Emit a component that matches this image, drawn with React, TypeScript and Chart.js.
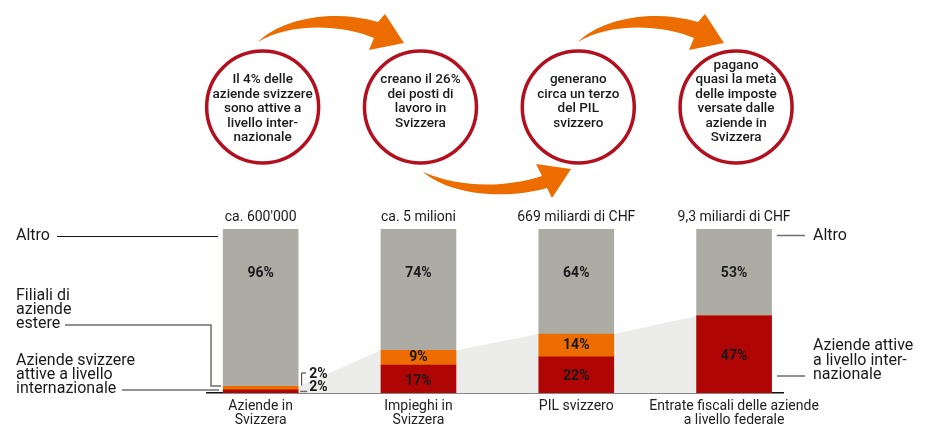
import { useEffect, useRef } from "react";
import { Chart, registerables } from "chart.js";
Chart.register(...registerables);

const FONT = "Roboto, 'DejaVu Sans', sans-serif";

const categories = ["Aziende in Svizzera", "Impieghi in Svizzera", "PIL svizzero", "Entrate fiscali delle aziende a livello federale"];
const categoryLines = [["Aziende in", "Svizzera"], ["Impieghi in", "Svizzera"], ["PIL svizzero"], ["Entrate fiscali delle aziende", "a livello federale"]];
const totals = ["ca. 600'000", "ca. 5 milioni", "669 miliardi di CHF", "9,3 miliardi di CHF"];
const swissIntl = [2, 17, 22, 47];
const foreignSubs = [2, 9, 14, 0];
const other = [96, 74, 64, 53];
const circleTexts = [
  ["Il 4% delle", "aziende svizzere", "sono attive a", "livello inter-", "nazionale"],
  ["creano il 26%", "dei posti di", "lavoro in", "Svizzera"],
  ["generano", "circa un terzo", "del PIL", "svizzero"],
  ["pagano", "quasi la metà", "delle imposte", "versate dalle", "aziende in", "Svizzera"],
];
const leftNotes = [["Altro"], ["Filiali di", "aziende", "estere"], ["Aziende svizzere", "attive a livello", "internazionale"]];
const rightNotes = [["Altro"], ["Aziende attive", "a livello inter-", "nazionale"]];

const RED = "#b00505";
const ORANGE = "#ec6c00";
const GRAY = "#adaca4";
const SHADE = "#ececea";
const CIRCLE = "#b2101e";
const TEXT = "#1a1a1a";
const LINE = "#6e6e6e";

function arrowA(ctx: CanvasRenderingContext2D, dx: number) {
  ctx.beginPath();
  ctx.moveTo(258 + dx, 42);
  ctx.bezierCurveTo(280 + dx, 20, 330 + dx, 8, 378 + dx, 22);
  ctx.lineTo(385 + dx, 14);
  ctx.lineTo(404 + dx, 43);
  ctx.lineTo(369 + dx, 50);
  ctx.lineTo(374 + dx, 38);
  ctx.bezierCurveTo(335 + dx, 22, 285 + dx, 25, 258 + dx, 42);
  ctx.closePath();
  ctx.fill();
}
function arrowB(ctx: CanvasRenderingContext2D) {
  ctx.beginPath();
  ctx.moveTo(423, 172);
  ctx.bezierCurveTo(450, 195, 505, 200, 547, 188);
  ctx.lineTo(552, 198);
  ctx.lineTo(571, 169);
  ctx.lineTo(536, 164);
  ctx.lineTo(542, 176);
  ctx.bezierCurveTo(505, 188, 460, 188, 423, 172);
  ctx.closePath();
  ctx.fill();
}

const decorPlugin = {
  id: "decor",
  beforeDatasetsDraw(chart: any) {
    const { ctx, scales } = chart;
    const x = scales.x, y = scales.y;
    const half = 37.5;
    const base = y.getPixelForValue(0);
    ctx.save();
    ctx.fillStyle = SHADE;
    ctx.beginPath();
    ctx.moveTo(x.getPixelForValue(0) + half, base);
    for (let i = 0; i < categories.length; i++) {
      const top = y.getPixelForValue(swissIntl[i] + foreignSubs[i]);
      const cx = x.getPixelForValue(i);
      if (i > 0) ctx.lineTo(cx - half, top);
      if (i < categories.length - 1) ctx.lineTo(cx + half, top);
    }
    ctx.lineTo(x.getPixelForValue(categories.length - 1) - half, base);
    ctx.closePath();
    ctx.fill();
    ctx.restore();
  },
  afterDraw(chart: any) {
    const { ctx, scales } = chart;
    const x = scales.x, y = scales.y;
    ctx.save();
    // arrows
    ctx.fillStyle = ORANGE;
    arrowA(ctx, 0);
    arrowA(ctx, 320);
    arrowB(ctx);
    // circles
    circleTexts.forEach((lines, i) => {
      const cx = x.getPixelForValue(i) + 2;
      ctx.beginPath();
      ctx.arc(cx, 107, 56, 0, Math.PI * 2);
      ctx.fillStyle = "#fff";
      ctx.fill();
      ctx.lineWidth = 3.5;
      ctx.strokeStyle = CIRCLE;
      ctx.stroke();
      ctx.fillStyle = TEXT;
      ctx.font = `500 13.5px ${FONT}`;
      ctx.textAlign = "center";
      ctx.textBaseline = "middle";
      const start = 80 - Math.max(0, lines.length - 5) * 14.5;
      lines.forEach((t, k) => ctx.fillText(t, cx, start + k * 14.5));
    });
    // totals above bars
    ctx.font = `14px ${FONT}`;
    ctx.fillStyle = TEXT;
    ctx.textAlign = "center";
    ctx.textBaseline = "middle";
    totals.forEach((t, i) => ctx.fillText(t, x.getPixelForValue(i), y.getPixelForValue(100) - 12));
    // value labels
    ctx.font = `bold 14px ${FONT}`;
    for (let i = 0; i < categories.length; i++) {
      const cx = x.getPixelForValue(i);
      ctx.textAlign = "center";
      ctx.fillText(other[i] + "%", cx, y.getPixelForValue(100) + 44);
      if (swissIntl[i] >= 5) {
        ctx.fillText(swissIntl[i] + "%", cx, y.getPixelForValue(swissIntl[i] / 2) + 2);
        if (foreignSubs[i] > 0) ctx.fillText(foreignSubs[i] + "%", cx, y.getPixelForValue(swissIntl[i] + foreignSubs[i] / 2));
      } else {
        const rx = cx + 37.5;
        const top = y.getPixelForValue(swissIntl[i] + foreignSubs[i]);
        ctx.textAlign = "left";
        ctx.fillText(foreignSubs[i] + "%", rx + 11, top - 12);
        ctx.fillText(swissIntl[i] + "%", rx + 11, top + 1);
        ctx.strokeStyle = "#333";
        ctx.lineWidth = 1;
        ctx.beginPath();
        ctx.moveTo(rx + 8, top - 13.5);
        ctx.lineTo(rx + 3.5, top - 13.5);
        ctx.lineTo(rx + 3.5, top - 1);
        ctx.stroke();
        ctx.strokeStyle = LINE;
        ctx.lineWidth = 1.5;
        ctx.beginPath();
        ctx.moveTo(rx + 2, top + 5);
        ctx.lineTo(rx + 9, top + 5);
        ctx.stroke();
      }
    }
    // left notes
    ctx.font = `16px ${FONT}`;
    ctx.textAlign = "left";
    ctx.fillStyle = TEXT;
    const noteStarts = [236, 296, 361];
    leftNotes.forEach((lines, n) => lines.forEach((t, k) => ctx.fillText(t, 16, noteStarts[n] + k * 14)));
    ctx.lineWidth = 1;
    ctx.strokeStyle = "#111";
    ctx.beginPath();
    ctx.moveTo(57, 236.5);
    ctx.lineTo(218, 236.5);
    ctx.stroke();
    ctx.lineWidth = 1.5;
    ctx.strokeStyle = LINE;
    ctx.beginPath();
    ctx.moveTo(65, 325);
    ctx.lineTo(211, 325);
    ctx.lineTo(211, 386);
    ctx.lineTo(221, 386);
    ctx.stroke();
    ctx.beginPath();
    ctx.moveTo(122, 390);
    ctx.lineTo(219, 390);
    ctx.stroke();
    // right notes
    const rStarts = [236, 346];
    rightNotes.forEach((lines, n) => lines.forEach((t, k) => ctx.fillText(t, 813, rStarts[n] + k * 14.5)));
    ctx.beginPath();
    ctx.moveTo(777, 235.5);
    ctx.lineTo(805, 235.5);
    ctx.stroke();
    ctx.beginPath();
    ctx.moveTo(777, 376);
    ctx.lineTo(805, 376);
    ctx.stroke();
    ctx.restore();
  },
};

export default function App() {
  const ref = useRef<HTMLCanvasElement>(null);
  useEffect(() => {
    if (!ref.current) return;
    const mk = (vals: number[], color: string, label: string) => ({
      label,
      data: vals.map((v, i) => ({ x: i, y: v })),
      backgroundColor: color,
      borderWidth: 0,
      barThickness: 75,
    });
    const chart = new Chart(ref.current, {
      type: "bar",
      data: {
        datasets: [
          mk(swissIntl, RED, "Aziende svizzere attive a livello internazionale"),
          mk(foreignSubs, ORANGE, "Filiali di aziende estere"),
          mk(other, GRAY, "Altro"),
        ],
      },
      options: {
        responsive: false,
        animation: false,
        layout: { padding: { left: 207, right: 146, top: 229, bottom: 0 } },
        plugins: { legend: { display: false }, tooltip: { enabled: false } },
        scales: {
          x: {
            type: "linear",
            offset: false,
            min: -0.34,
            max: 3.31,
            stacked: true,
            grid: { display: false, drawTicks: false, tickLength: 0 },
            border: { display: true, color: "#111", width: 1.5 },
            afterBuildTicks: (axis: any) => {
              axis.ticks = categories.map((_, i) => ({ value: i }));
            },
            afterFit: (axis: any) => {
              axis.height = 33;
            },
            ticks: {
              autoSkip: false,
              maxRotation: 0,
              padding: 6,
              color: "#222",
              font: { family: FONT, size: 14, lineHeight: 1 },
              callback: (v: any) => categoryLines[v as number] ?? "",
            },
          },
          y: { display: false, stacked: true, min: 0, max: 100 },
        },
      } as any,
      plugins: [decorPlugin],
    });
    return () => chart.destroy();
  }, []);
  return (
    <div style={{ position: "fixed", left: 0, top: 0, width: 929, height: 426, background: "#fff" }}>
      <canvas ref={ref} width={929} height={426} style={{ display: "block" }} />
    </div>
  );
}
